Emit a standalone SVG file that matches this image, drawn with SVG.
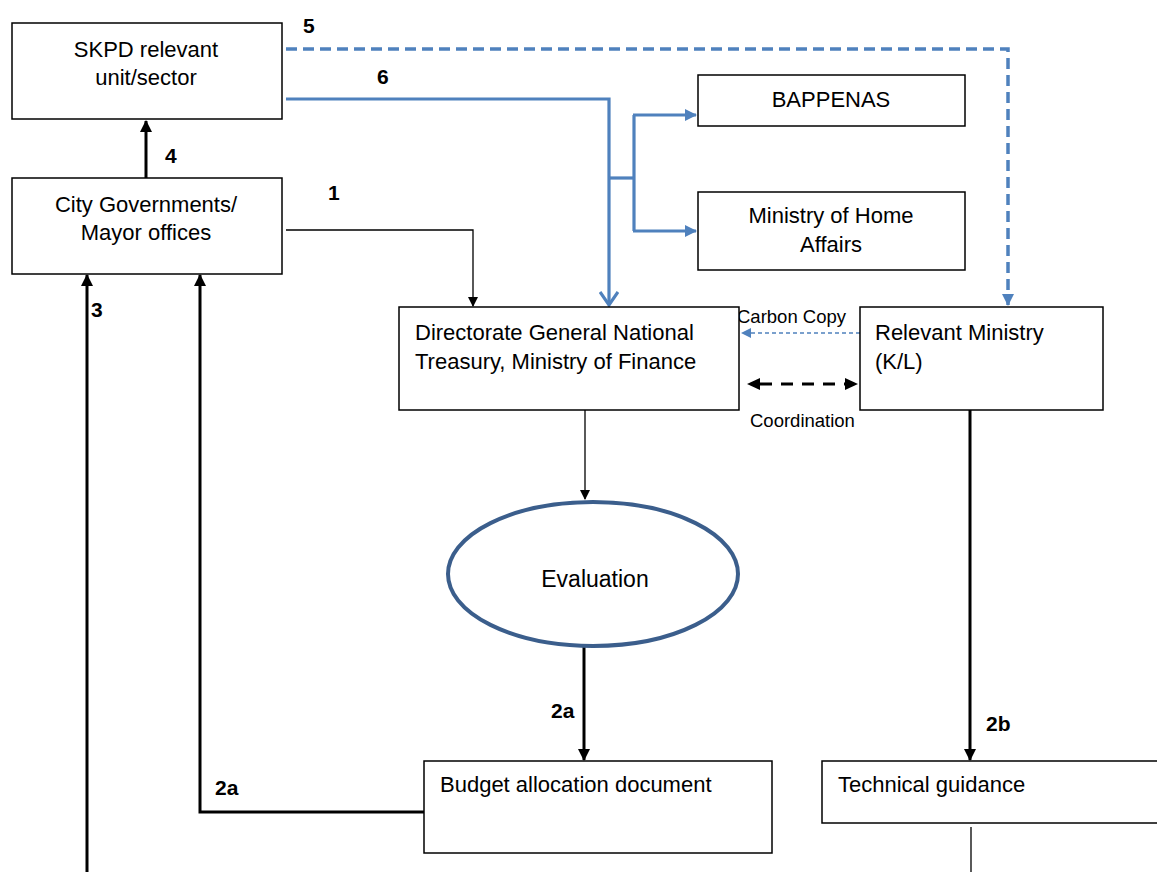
<svg xmlns="http://www.w3.org/2000/svg" width="1157" height="872" viewBox="0 0 1157 872">
<style>
.box{fill:#fff;stroke:#000;stroke-width:1.5}
.t{font-family:"Liberation Sans",Arial,sans-serif;font-size:22px;fill:#000}
.c{text-anchor:middle}
.n{font-family:"Liberation Sans",Arial,sans-serif;font-size:21px;font-weight:bold;fill:#000}
.s{font-family:"Liberation Sans",Arial,sans-serif;font-size:18.5px;fill:#000}
.k3{stroke:#000;stroke-width:3;fill:none}
.k1{stroke:#000;stroke-width:1.3;fill:none}
.b3{stroke:#4f81bd;stroke-width:3.2;fill:none}
</style>
<defs>
<marker id="ak" markerWidth="10" markerHeight="10" refX="9" refY="5" orient="auto" markerUnits="userSpaceOnUse" viewBox="0 0 10 10"><path d="M0,0 L10,5 L0,10 z" fill="#000"/></marker>
<marker id="ak2" markerWidth="12" markerHeight="12" refX="11" refY="6" orient="auto" markerUnits="userSpaceOnUse" viewBox="0 0 12 12"><path d="M0,0 L12,6 L0,12 z" fill="#000"/></marker>
<marker id="ab" markerWidth="12" markerHeight="12" refX="11" refY="6" orient="auto" markerUnits="userSpaceOnUse" viewBox="0 0 12 12"><path d="M0,0 L12,6 L0,12 z" fill="#4f81bd"/></marker>
<marker id="abs" markerWidth="10" markerHeight="10" refX="9" refY="5" orient="auto" markerUnits="userSpaceOnUse" viewBox="0 0 10 10"><path d="M0,0 L10,5 L0,10 z" fill="#4f81bd"/></marker>
<marker id="av" markerWidth="16" markerHeight="20" refX="14" refY="10" orient="auto" markerUnits="userSpaceOnUse" viewBox="0 0 16 20"><path d="M1,1 L14,10 L1,19" fill="none" stroke="#4f81bd" stroke-width="3.2"/></marker>
</defs>

<g id="connectors">
<line class="k3" x1="146" y1="178" x2="146" y2="121" marker-end="url(#ak2)"/>
<path d="M286,49 H1008 V305" stroke="#4f81bd" stroke-width="3.5" fill="none" stroke-dasharray="11,6" marker-end="url(#ab)"/>
<path class="b3" d="M286,99 H609 V305" marker-end="url(#av)"/>
<path class="b3" d="M609,178 H634"/>
<path class="b3" d="M634,115 V231"/>
<line class="b3" x1="633" y1="115" x2="696" y2="115" marker-end="url(#ab)"/>
<line class="b3" x1="633" y1="231" x2="696" y2="231" marker-end="url(#ab)"/>
<path class="k1" d="M286,230 H473 V306" marker-end="url(#ak)"/>
<line x1="860" y1="333" x2="742" y2="333" stroke="#4f81bd" stroke-width="1.3" stroke-dasharray="4,3" marker-end="url(#abs)"/>
<line x1="760" y1="384" x2="846" y2="384" stroke="#000" stroke-width="3" stroke-dasharray="12,9"/>
<path d="M747,384 L760,378 L760,390 z" fill="#000"/>
<path d="M858,384 L845,378 L845,390 z" fill="#000"/>
<line class="k1" x1="585" y1="410" x2="585" y2="499" marker-end="url(#ak)"/>
<line class="k3" x1="584" y1="647" x2="584" y2="760" marker-end="url(#ak2)"/>
<path class="k3" d="M424,812 H200 V275" marker-end="url(#ak2)"/>
<line class="k3" x1="87" y1="872" x2="87" y2="275" marker-end="url(#ak2)"/>
<line class="k3" x1="970" y1="410" x2="970" y2="760" marker-end="url(#ak2)"/>
<line class="k1" x1="971" y1="827" x2="971" y2="872"/>
</g>

<g id="labels">
<text class="n" x="303" y="33">5</text>
<text class="n" x="377" y="84">6</text>
<text class="n" x="165" y="163">4</text>
<text class="n" x="328" y="200">1</text>
<text class="n" x="91" y="317">3</text>
<text class="n" x="551" y="718">2a</text>
<text class="n" x="215" y="795">2a</text>
<text class="n" x="986" y="731">2b</text>
<text class="s" x="737" y="323">Carbon Copy</text>
<text class="s" x="750" y="427">Coordination</text>
</g>

<g id="skpd">
<rect class="box" x="12" y="23" width="270" height="96"/>
<text class="t c" x="146" y="57">SKPD relevant</text>
<text class="t c" x="146" y="85">unit/sector</text>
</g>
<g id="city">
<rect class="box" x="12" y="178" width="270" height="96"/>
<text class="t c" x="146" y="212">City Governments/</text>
<text class="t c" x="146" y="240">Mayor offices</text>
</g>
<g id="bappenas">
<rect class="box" x="698" y="75" width="267" height="51"/>
<text class="t c" x="831" y="107">BAPPENAS</text>
</g>
<g id="home">
<rect class="box" x="698" y="192" width="267" height="78"/>
<text class="t c" x="831" y="223">Ministry of Home</text>
<text class="t c" x="831" y="252">Affairs</text>
</g>
<g id="dg">
<rect class="box" x="399" y="307" width="340" height="103"/>
<text class="t" x="415" y="340">Directorate General National</text>
<text class="t" x="415" y="369">Treasury, Ministry of Finance</text>
</g>
<g id="relevant">
<rect class="box" x="860" y="307" width="243" height="103"/>
<text class="t" x="875" y="340">Relevant Ministry</text>
<text class="t" x="875" y="369">(K/L)</text>
</g>
<g id="evaluation">
<ellipse cx="593" cy="574" rx="145" ry="72" fill="#fff" stroke="#3b5e8c" stroke-width="4"/>
<text class="t c" x="595" y="587" style="font-size:23px">Evaluation</text>
</g>
<g id="budget">
<rect class="box" x="424" y="761" width="348" height="92"/>
<text class="t" x="440" y="792">Budget allocation document</text>
</g>
<g id="technical">
<rect class="box" x="822" y="761" width="340" height="62"/>
<text class="t" x="838" y="792">Technical guidance</text>
</g>
</svg>
